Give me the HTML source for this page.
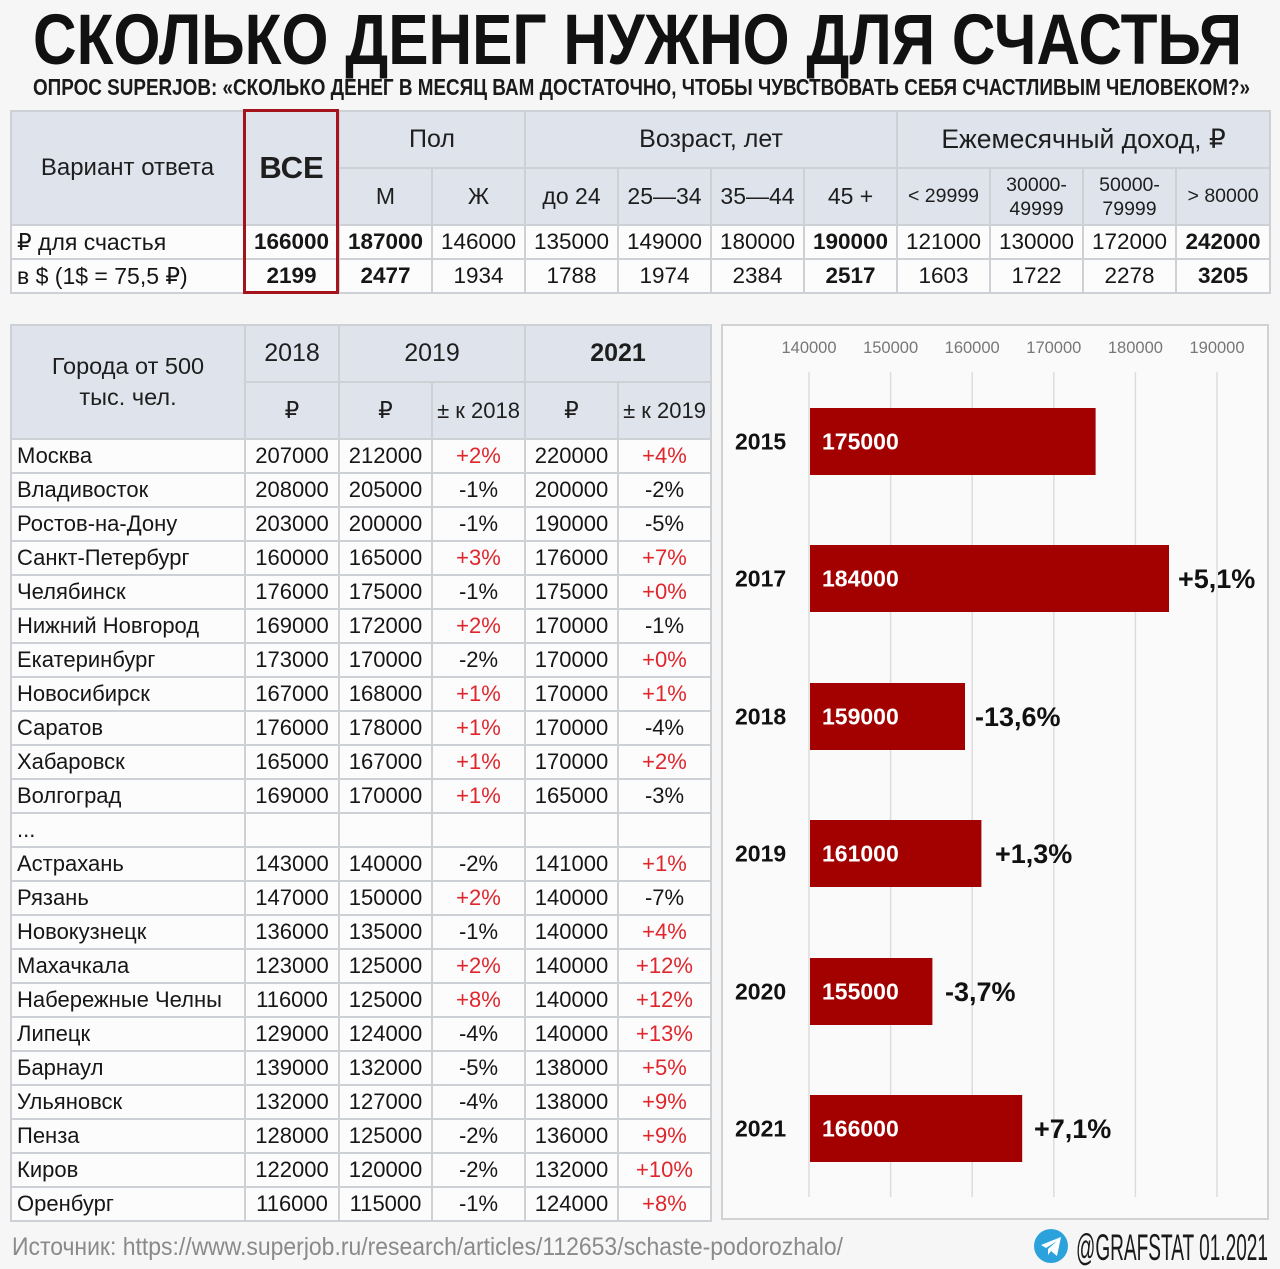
<!DOCTYPE html>
<html lang="ru">
<head>
<meta charset="utf-8">
<style>
  html,body{margin:0;padding:0}
  body{width:1280px;height:1269px;background:#f6f6f6;position:relative;overflow:hidden;font-family:"Liberation Sans","DejaVu Sans",sans-serif;color:#161616}
  table{position:absolute;border-collapse:collapse;table-layout:fixed}
  td{border:2px solid #cdd1d6;padding:0;text-align:center;vertical-align:middle;white-space:nowrap;overflow:hidden;line-height:1.15}
  .h td{background:#dfe4ec;color:#1e1e1e}
  .d td{background:#fcfcfc;font-size:22px}
  .l{text-align:left !important;padding-left:5px !important}
  .b{font-weight:bold}
  .r{color:#e0262d}
  #t1 .d td{font-size:22.5px}
  #t2 .d td{height:30px}
  #box{position:absolute;left:243px;top:109px;width:96px;height:185px;border:3px solid #a5141c;box-sizing:border-box}
  #panel{position:absolute;left:721px;top:324px;width:548px;height:896px;border:2px solid #d2d2d2;background:#fafafa;box-sizing:border-box}
  svg{position:absolute;left:0;top:0}
</style>
</head>
<body>

<!-- Top table -->
<table id="t1" style="left:10px;top:110px;width:1259px">
<colgroup>
<col style="width:233px"><col style="width:95px"><col style="width:93px"><col style="width:93px"><col style="width:93px"><col style="width:93px"><col style="width:93px"><col style="width:93px"><col style="width:93px"><col style="width:93px"><col style="width:93px"><col style="width:94px">
</colgroup>
<tr class="h" style="height:57px">
<td rowspan="2" style="font-size:24px">Вариант ответа</td>
<td rowspan="2" class="b" style="font-size:31px">ВСЕ</td>
<td colspan="2" style="font-size:25px">Пол</td>
<td colspan="4" style="font-size:25px">Возраст, лет</td>
<td colspan="4" style="font-size:26.5px">Ежемесячный доход, ₽</td>
</tr>
<tr class="h" style="height:57px">
<td style="font-size:23px">М</td>
<td style="font-size:23px">Ж</td>
<td style="font-size:23px">до 24</td>
<td style="font-size:23px">25—34</td>
<td style="font-size:23px">35—44</td>
<td style="font-size:23px">45 +</td>
<td style="font-size:19.5px">&lt; 29999</td>
<td style="font-size:19.5px;line-height:24px">30000-<br>49999</td>
<td style="font-size:19.5px;line-height:24px">50000-<br>79999</td>
<td style="font-size:19.5px">&gt; 80000</td>
</tr>
<tr class="d" style="height:34px">
<td class="l" style="font-size:23px">₽ для счастья</td>
<td class="b">166000</td><td class="b">187000</td><td>146000</td><td>135000</td><td>149000</td><td>180000</td><td class="b">190000</td><td>121000</td><td>130000</td><td>172000</td><td class="b">242000</td>
</tr>
<tr class="d" style="height:34px">
<td class="l" style="font-size:23px">в $ (1$ = 75,5 ₽)</td>
<td class="b">2199</td><td class="b">2477</td><td>1934</td><td>1788</td><td>1974</td><td>2384</td><td class="b">2517</td><td>1603</td><td>1722</td><td>2278</td><td class="b">3205</td>
</tr>
</table>
<div id="box"></div>

<!-- Cities table -->
<table id="t2" style="left:10px;top:324px;width:700px">
<colgroup>
<col style="width:234px"><col style="width:94px"><col style="width:93px"><col style="width:93px"><col style="width:93px"><col style="width:93px">
</colgroup>
<tr class="h" style="height:57px">
<td rowspan="2" style="font-size:23.5px;line-height:31px">Города от 500<br>тыс. чел.</td>
<td style="font-size:25px">2018</td>
<td colspan="2" style="font-size:25px">2019</td>
<td colspan="2" class="b" style="font-size:25px">2021</td>
</tr>
<tr class="h" style="height:57px">
<td style="font-size:23px">₽</td>
<td style="font-size:23px">₽</td>
<td style="font-size:22px">± к 2018</td>
<td style="font-size:23px">₽</td>
<td style="font-size:22px">± к 2019</td>
</tr>
<tr class="d" style="height:34px"><td class="l">Москва</td><td>207000</td><td>212000</td><td class="r">+2%</td><td>220000</td><td class="r">+4%</td></tr>
<tr class="d" style="height:34px"><td class="l">Владивосток</td><td>208000</td><td>205000</td><td>-1%</td><td>200000</td><td>-2%</td></tr>
<tr class="d" style="height:34px"><td class="l">Ростов-на-Дону</td><td>203000</td><td>200000</td><td>-1%</td><td>190000</td><td>-5%</td></tr>
<tr class="d" style="height:34px"><td class="l">Санкт-Петербург</td><td>160000</td><td>165000</td><td class="r">+3%</td><td>176000</td><td class="r">+7%</td></tr>
<tr class="d" style="height:34px"><td class="l">Челябинск</td><td>176000</td><td>175000</td><td>-1%</td><td>175000</td><td class="r">+0%</td></tr>
<tr class="d" style="height:34px"><td class="l">Нижний Новгород</td><td>169000</td><td>172000</td><td class="r">+2%</td><td>170000</td><td>-1%</td></tr>
<tr class="d" style="height:34px"><td class="l">Екатеринбург</td><td>173000</td><td>170000</td><td>-2%</td><td>170000</td><td class="r">+0%</td></tr>
<tr class="d" style="height:34px"><td class="l">Новосибирск</td><td>167000</td><td>168000</td><td class="r">+1%</td><td>170000</td><td class="r">+1%</td></tr>
<tr class="d" style="height:34px"><td class="l">Саратов</td><td>176000</td><td>178000</td><td class="r">+1%</td><td>170000</td><td>-4%</td></tr>
<tr class="d" style="height:34px"><td class="l">Хабаровск</td><td>165000</td><td>167000</td><td class="r">+1%</td><td>170000</td><td class="r">+2%</td></tr>
<tr class="d" style="height:34px"><td class="l">Волгоград</td><td>169000</td><td>170000</td><td class="r">+1%</td><td>165000</td><td>-3%</td></tr>
<tr class="d" style="height:34px"><td class="l">...</td><td></td><td></td><td></td><td></td><td></td></tr>
<tr class="d" style="height:34px"><td class="l">Астрахань</td><td>143000</td><td>140000</td><td>-2%</td><td>141000</td><td class="r">+1%</td></tr>
<tr class="d" style="height:34px"><td class="l">Рязань</td><td>147000</td><td>150000</td><td class="r">+2%</td><td>140000</td><td>-7%</td></tr>
<tr class="d" style="height:34px"><td class="l">Новокузнецк</td><td>136000</td><td>135000</td><td>-1%</td><td>140000</td><td class="r">+4%</td></tr>
<tr class="d" style="height:34px"><td class="l">Махачкала</td><td>123000</td><td>125000</td><td class="r">+2%</td><td>140000</td><td class="r">+12%</td></tr>
<tr class="d" style="height:34px"><td class="l">Набережные Челны</td><td>116000</td><td>125000</td><td class="r">+8%</td><td>140000</td><td class="r">+12%</td></tr>
<tr class="d" style="height:34px"><td class="l">Липецк</td><td>129000</td><td>124000</td><td>-4%</td><td>140000</td><td class="r">+13%</td></tr>
<tr class="d" style="height:34px"><td class="l">Барнаул</td><td>139000</td><td>132000</td><td>-5%</td><td>138000</td><td class="r">+5%</td></tr>
<tr class="d" style="height:34px"><td class="l">Ульяновск</td><td>132000</td><td>127000</td><td>-4%</td><td>138000</td><td class="r">+9%</td></tr>
<tr class="d" style="height:34px"><td class="l">Пенза</td><td>128000</td><td>125000</td><td>-2%</td><td>136000</td><td class="r">+9%</td></tr>
<tr class="d" style="height:34px"><td class="l">Киров</td><td>122000</td><td>120000</td><td>-2%</td><td>132000</td><td class="r">+10%</td></tr>
<tr class="d" style="height:34px"><td class="l">Оренбург</td><td>116000</td><td>115000</td><td>-1%</td><td>124000</td><td class="r">+8%</td></tr>
</table>

<div id="panel"></div>

<svg width="1280" height="1269" viewBox="0 0 1280 1269" xmlns="http://www.w3.org/2000/svg" font-family="Liberation Sans, DejaVu Sans, sans-serif">
  <!-- Title -->
  <text x="33" y="64" font-size="71" font-weight="bold" fill="#111" textLength="1209" lengthAdjust="spacingAndGlyphs">СКОЛЬКО ДЕНЕГ НУЖНО ДЛЯ СЧАСТЬЯ</text>
  <text x="33" y="95" font-size="23" font-weight="bold" fill="#1a1a1a" textLength="1217" lengthAdjust="spacingAndGlyphs">ОПРОС SUPERJOB: «СКОЛЬКО ДЕНЕГ В МЕСЯЦ ВАМ ДОСТАТОЧНО, ЧТОБЫ ЧУВСТВОВАТЬ СЕБЯ СЧАСТЛИВЫМ ЧЕЛОВЕКОМ?»</text>

  <!-- Chart gridlines -->
  <g stroke="#dcdcdc" stroke-width="1.5">
    <line x1="809" y1="372" x2="809" y2="1197"/>
    <line x1="890.6" y1="372" x2="890.6" y2="1197"/>
    <line x1="972.2" y1="372" x2="972.2" y2="1197"/>
    <line x1="1053.8" y1="372" x2="1053.8" y2="1197"/>
    <line x1="1135.4" y1="372" x2="1135.4" y2="1197"/>
    <line x1="1217" y1="372" x2="1217" y2="1197"/>
  </g>
  <g font-size="16.5" fill="#777" text-anchor="middle">
    <text x="809" y="353">140000</text>
    <text x="890.6" y="353">150000</text>
    <text x="972.2" y="353">160000</text>
    <text x="1053.8" y="353">170000</text>
    <text x="1135.4" y="353">180000</text>
    <text x="1217" y="353">190000</text>
  </g>

  <!-- Bars -->
  <g fill="#a30000">
    <rect x="810" y="408" width="285.6" height="67"/>
    <rect x="810" y="545" width="359" height="67"/>
    <rect x="810" y="683" width="155" height="67"/>
    <rect x="810" y="820" width="171.4" height="67"/>
    <rect x="810" y="958" width="122.4" height="67"/>
    <rect x="810" y="1095" width="212.2" height="67"/>
  </g>
  <g font-size="23" font-weight="bold" fill="#111">
    <text x="735" y="449.5">2015</text>
    <text x="735" y="586.5">2017</text>
    <text x="735" y="724.5">2018</text>
    <text x="735" y="861.5">2019</text>
    <text x="735" y="999.5">2020</text>
    <text x="735" y="1136.5">2021</text>
  </g>
  <g font-size="23" font-weight="bold" fill="#ffffff">
    <text x="822" y="449.5">175000</text>
    <text x="822" y="586.5">184000</text>
    <text x="822" y="724.5">159000</text>
    <text x="822" y="861.5">161000</text>
    <text x="822" y="999.5">155000</text>
    <text x="822" y="1136.5">166000</text>
  </g>
  <g font-size="27" font-weight="bold" fill="#111">
    <text x="1178" y="588">+5,1%</text>
    <text x="975" y="726">-13,6%</text>
    <text x="995" y="863">+1,3%</text>
    <text x="945" y="1001">-3,7%</text>
    <text x="1034" y="1138">+7,1%</text>
  </g>

  <!-- Footer -->
  <text x="12" y="1255" font-size="25" fill="#8a8a8a" textLength="831" lengthAdjust="spacingAndGlyphs">Источник: https://www.superjob.ru/research/articles/112653/schaste-podorozhalo/</text>
  <circle cx="1051" cy="1246" r="17" fill="#2ca2dc"/>
  <path d="M1041 1245 L1061 1237 L1057 1256 L1051 1251 L1048 1255 L1048 1249 L1057 1241 L1046 1248 Z" fill="#ffffff"/>
  <text x="1076" y="1260" font-size="37" fill="#1a1a1a" textLength="192" lengthAdjust="spacingAndGlyphs">@GRAFSTAT 01.2021</text>
</svg>

</body>
</html>
